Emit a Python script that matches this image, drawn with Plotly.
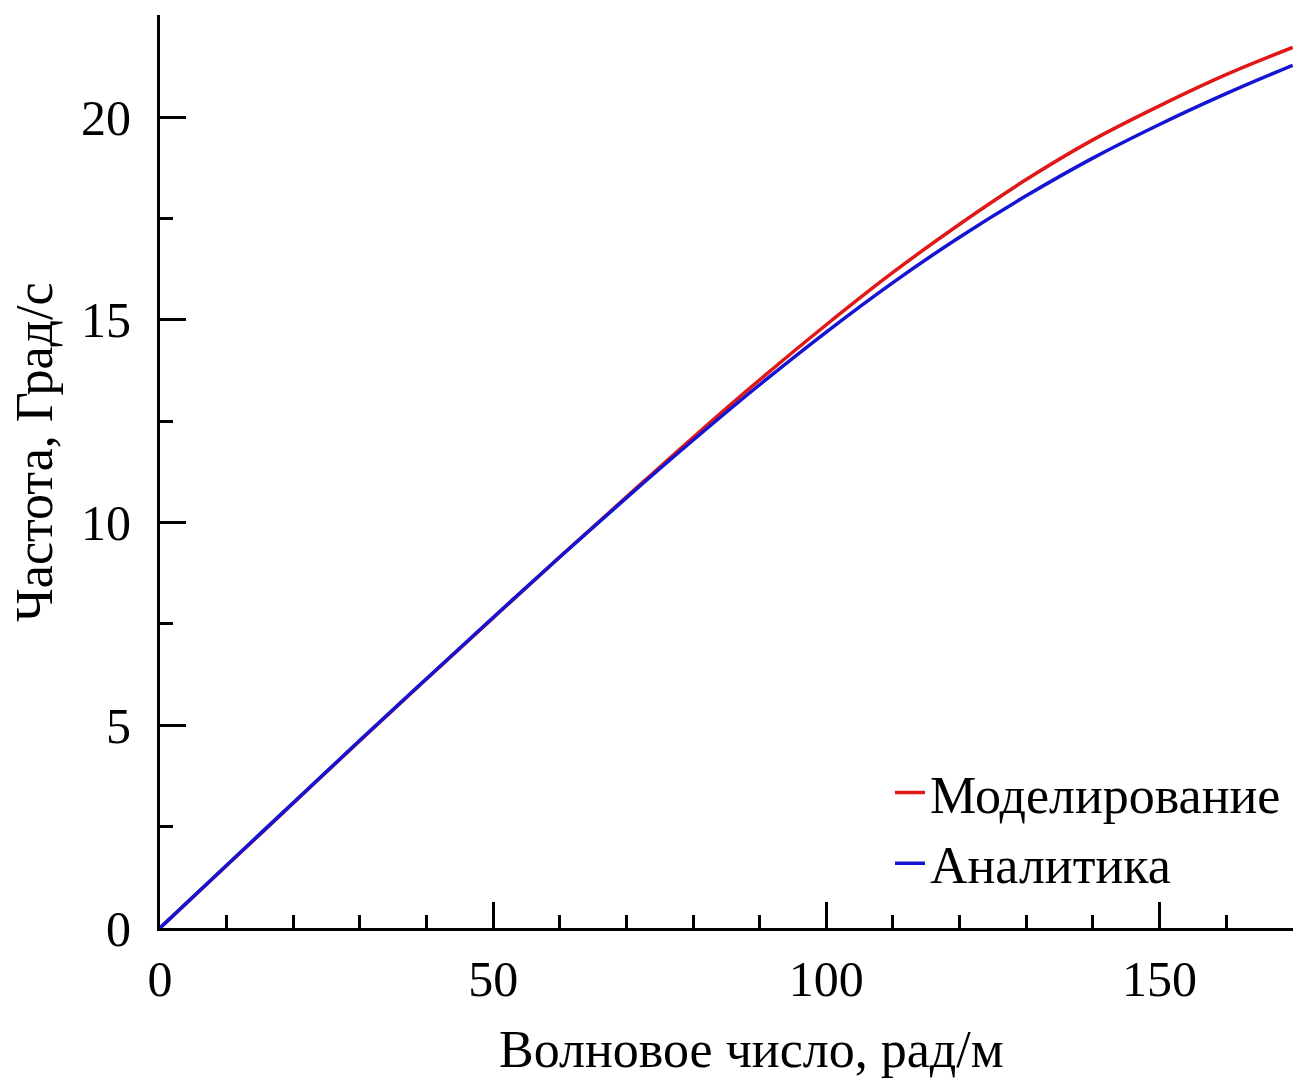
import plotly.graph_objects as go

# Wave number, rad/m
k = [0, 10, 20, 30, 40, 50, 60, 70, 80, 90, 100, 110, 120, 130, 140, 150, 160, 170]
# Simulation (red)
sim = [0, 1.54, 3.08, 4.62, 6.14, 7.65, 9.15, 10.63, 12.10, 13.52, 14.88, 16.17, 17.36, 18.46, 19.44, 20.28, 21.05, 21.72]
# Analytics (blue)
ana = [0, 1.55, 3.09, 4.63, 6.15, 7.66, 9.15, 10.61, 12.03, 13.40, 14.70, 15.92, 17.04, 18.06, 18.99, 19.82, 20.58, 21.28]

x_ticks = [0, 50, 100, 150]
y_ticks = [0, 5, 10, 15, 20]

FONT = "Liberation Serif, Times New Roman, serif"

fig = go.Figure()
fig.add_trace(go.Scatter(x=k, y=sim, mode="lines", name="Моделирование",
                         line=dict(color="#e01818", width=3.5, shape="spline")))
fig.add_trace(go.Scatter(x=k, y=ana, mode="lines", name="Аналитика",
                         line=dict(color="#1414d2", width=3.5, shape="spline")))

axis_common = dict(showline=True, linecolor="black", linewidth=3, showgrid=False,
                   zeroline=False, ticks="inside", ticklen=26, tickwidth=3,
                   tickcolor="black", tickfont=dict(family=FONT, size=50, color="black"))

fig.update_xaxes(range=[0, 170.05], tickvals=x_ticks,
                 minor=dict(ticks="inside", ticklen=13, tickwidth=3, tickcolor="black", dtick=10, tick0=0),
                 ticklabelstandoff=5, **axis_common)
fig.update_yaxes(range=[0, 22.52], tickvals=y_ticks,
                 minor=dict(ticks="inside", ticklen=13, tickwidth=3, tickcolor="black", dtick=2.5, tick0=0),
                 ticklabelstandoff=16, **axis_common)

# Axis titles
fig.add_annotation(text="Волновое число, рад/м", xref="paper", yref="paper",
                   x=0.5225, y=-0.1336, xanchor="center", yanchor="middle", showarrow=False,
                   font=dict(family=FONT, size=52, color="black"))
fig.add_annotation(text="Частота, Град/с", xref="paper", yref="paper",
                   x=-0.1103, y=0.5214, xanchor="center", yanchor="middle", showarrow=False,
                   textangle=-90, font=dict(family=FONT, size=52, color="black"))

fig.update_layout(
    width=1306, height=1080,
    margin=dict(l=160, r=13, t=15, b=152),
    paper_bgcolor="white", plot_bgcolor="white",
    font=dict(family=FONT, size=50, color="black"),
    legend=dict(x=0.6443, xanchor="left", y=0.026, yanchor="bottom",
                bgcolor="rgba(0,0,0,0)", font=dict(family=FONT, size=52, color="black"),
                itemwidth=30, tracegroupgap=0),
    showlegend=True,
)

fig.write_html("out.html")
